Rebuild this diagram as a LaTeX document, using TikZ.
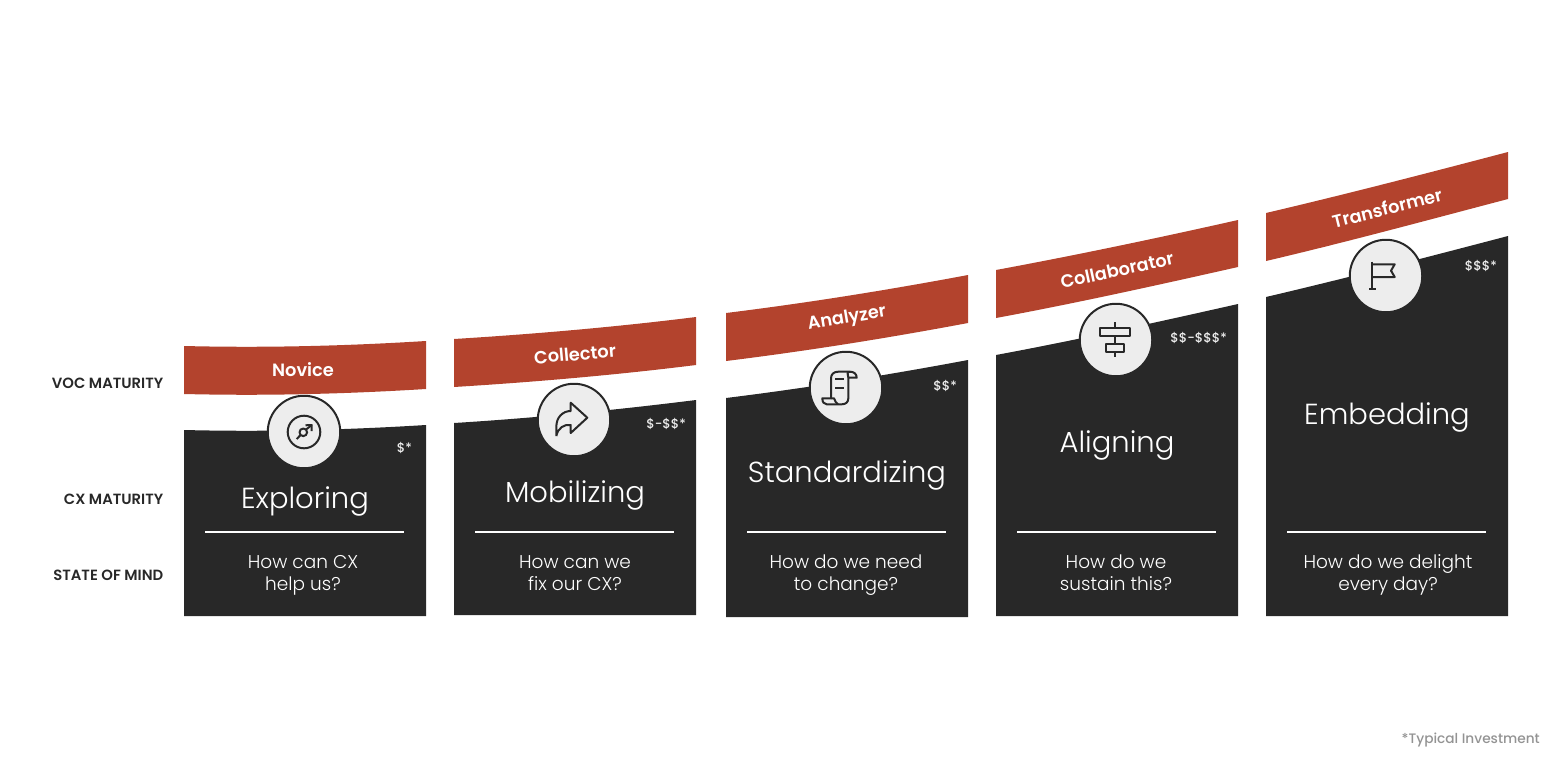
\documentclass[tikz,border=0pt]{standalone}
\usepackage{fontspec}
\setmainfont{Poppins}
\newfontfamily\finafont{Poppins Light}
\newfontfamily\mediafont{Poppins SemiBold}
\newfontfamily\pesofont{Poppins Medium}
\definecolor{rojo}{HTML}{B3432D}
\definecolor{oscuro}{HTML}{282828}
\definecolor{claro}{HTML}{EDEDED}
\definecolor{gris}{HTML}{939393}
\usetikzlibrary{positioning}

\begin{document}
\begin{tikzpicture}[x=1pt, y=-1pt, every node/.style={align=center, inner sep=0pt},
  cinta/.style={fill=rojo},
  caja/.style={fill=oscuro},
  raya/.style={draw=white, line width=1.5pt},
  disco/.style={circle, draw=oscuro, line width=2pt, fill=claro, minimum size=72.5pt},
  icono/.style={draw=oscuro, line width=2pt, line join=round},
  nivel/.style={font=\mediafont\fontsize{17.8}{20}\selectfont, text=white},
  etapa/.style={font=\finafont\fontsize{29}{32}\selectfont, text=white, text height=21pt, text depth=6pt},
  duda/.style={font=\finafont\fontsize{18.5}{22}\selectfont, text=white, text height=14pt, text depth=5pt},
  costo/.style={font=\pesofont\fontsize{13}{15}\selectfont, text=claro, anchor=east},
  rotulo/.style={font=\mediafont\fontsize{14.8}{16}\selectfont, text=oscuro, anchor=east}]
\useasboundingbox (0,0) rectangle (1560,768);

\fill[cinta] (184,346) .. controls (265,348) and (345,346) .. (426,341) -- (426,389) .. controls (345,394) and (265,396) .. (184,394) -- cycle;
\fill[cinta] (454,339) .. controls (535,334) and (616,327) .. (696,317) -- (696,365) .. controls (616,375) and (535,382) .. (454,387) -- cycle;
\fill[cinta] (726,313) .. controls (807,303) and (888,290) .. (968,275) -- (968,323) .. controls (888,338) and (807,351) .. (726,361) -- cycle;
\fill[cinta] (996,270) .. controls (1077,255) and (1158,238) .. (1238,220) -- (1238,267) .. controls (1158,285) and (1077,303) .. (996,318) -- cycle;
\fill[cinta] (1266,213) .. controls (1347,194) and (1428,173) .. (1508,152) -- (1508,199) .. controls (1428,220) and (1347,242) .. (1266,261) -- cycle;

\fill[caja] (184,430) .. controls (265,432) and (345,430) .. (426,425) -- (426,616) -- (184,616) -- cycle;
\fill[caja] (454,423) .. controls (535,418) and (616,410) .. (696,400) -- (696,615) -- (454,615) -- cycle;
\fill[caja] (726,398) .. controls (807,388) and (888,375) .. (968,360) -- (968,617) -- (726,617) -- cycle;
\fill[caja] (996,355) .. controls (1077,340) and (1158,322) .. (1238,304) -- (1238,616) -- (996,616) -- cycle;
\fill[caja] (1266,297) .. controls (1347,278) and (1428,257) .. (1508,236) -- (1508,616) -- (1266,616) -- cycle;

\node[nivel] (n1) at (303,370) {Novice};
\node[nivel, rotate=5] (n2) at (575,354) {Collector};
\node[nivel, rotate=9.5] (n3) at (847,319) {Analyzer};
\node[nivel, rotate=12] (n4) at (1117,270) {Collaborator};
\node[nivel, rotate=14] (n5) at (1387,208) {Transformer};

\node[disco] (d1) at (304,432) {};
\node[disco] (d2) at (574,420) {};
\node[disco] (d3) at (846,388) {};
\node[disco] (d4) at (1116,340) {};
\node[disco] (d5) at (1386,276) {};

\draw[icono] (304,432) circle (16.3);
\draw[icono] (303.3,432.3) circle (3.8);
\draw[icono] (296.7,439) -- (300.6,435); \draw[icono] (306,429.6) -- (311.7,425); \draw[icono] (305.5,425.3) -- (311.7,425) -- (311.7,431);
\draw[icono] (556.3,436) -- (556.3,427) .. controls (556.3,417) and (563,411) .. (570.7,411) -- (570.7,402.7) -- (587.3,417.7) -- (570.7,433) -- (570.7,425) .. controls (564,424) and (558,428) .. (556.3,436);
\draw[icono] (850,371.7) -- (838.3,371.7) .. controls (834,371.7) and (831,374) .. (831,378.3) -- (831,398.3) -- (822.3,398.3) .. controls (822.3,402) and (824,404.3) .. (826.7,404.3) -- (841.7,404.3) .. controls (846,404.3) and (848.3,402) .. (848.3,398.3) -- (848.3,377.7) -- (856.7,377.7) .. controls (856.7,374) and (854,371.7) .. (850,371.7) .. controls (846,371.7) and (848.3,375) .. (848.3,377.7);
\draw[icono] (831,398.3) -- (834,398.3) .. controls (835,401) and (836,403) .. (838,404.3);
\draw[icono] (835,379.3) -- (844.3,379.3); \draw[icono] (835,388.3) -- (844.3,388.3);
\draw[icono] (1115,322.3) -- (1115,327.7); \draw[icono] (1115,336) -- (1115,343.7); \draw[icono] (1115,352.3) -- (1115,357.3);
\draw[icono] (1100,327.7) rectangle (1130.3,336);
\draw[icono] (1106.3,343.7) rectangle (1124.3,352.3);
\draw[icono] (1372.3,261.7) -- (1372.3,289); \draw[icono] (1369,289) -- (1375.7,289);
\draw[icono] (1372.3,264.3) -- (1394.7,264.3) -- (1391,270.7) -- (1394.7,277) -- (1372.3,277);

\node[costo] (c1) at (412,448) {\$*};
\node[costo] (c2) at (686,424) {\$-\$\$*};
\node[costo] (c3) at (957,386) {\$\$*};
\node[costo] (c4) at (1227,338) {\$\$-\$\$\$*};
\node[costo] (c5) at (1497,266) {\$\$\$*};

\node[etapa] (e1) at (305,501) {Exploring};
\node[etapa] (e2) at (575,495) {Mobilizing};
\node[etapa] (e3) at (847,475) {Standardizing};
\node[etapa] (e4) at (1117,445) {Aligning};
\node[etapa] (e5) at (1387,417) {Embedding};

\draw[raya] (205,532) -- (404,532);
\draw[raya] (475,532) -- (674,532);
\draw[raya] (747,532) -- (946,532);
\draw[raya] (1017,532) -- (1216,532);
\draw[raya] (1287,532) -- (1486,532);

\node[duda] (q1) at (303,586) {How can CX\\help us?};
\node[duda] (q2) at (575,586) {How can we\\fix our CX?};
\node[duda] (q3) at (846,586) {How do we need\\to change?};
\node[duda] (q4) at (1116,586) {How do we\\sustain this?};
\node[duda] (q5) at (1388,586) {How do we delight\\every day?};

\node[rotulo] (voc) at (163.5,383) {VOC MATURITY};
\node[rotulo] (cx) at (163.5,499) {CX MATURITY};
\node[rotulo] (som) at (163.5,575) {STATE OF MIND};
\node[font=\pesofont\fontsize{13.7}{16}\selectfont, text=gris, anchor=east] (nota) at (1540,740) {*Typical Investment};
\end{tikzpicture}
\end{document}
